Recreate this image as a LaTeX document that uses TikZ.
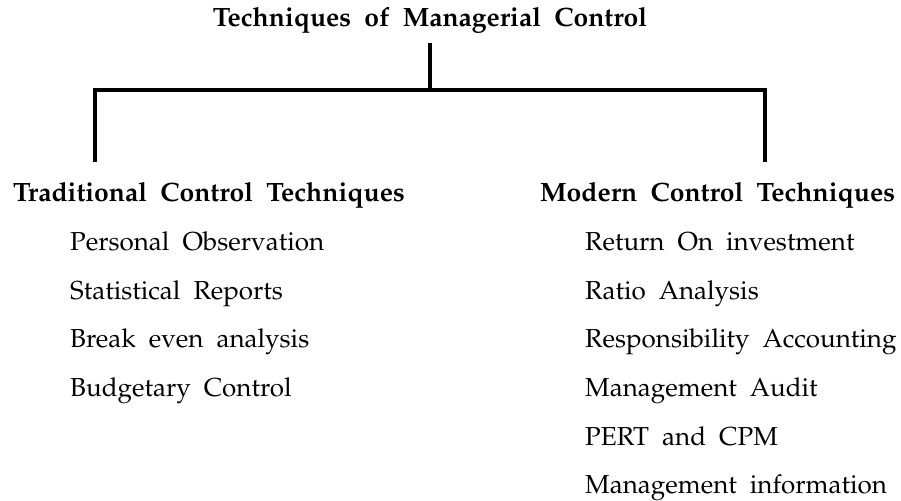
\documentclass[tikz,border=0pt]{standalone}
\usepackage[T1]{fontenc}
\usepackage{mathpazo}
\newcommand{\itemsize}{\fontsize{26}{30}\selectfont\spaceskip=0.5em plus 0pt minus 0pt\relax}
\newcommand{\headsize}{\fontsize{26.5}{31}\selectfont\spaceskip=0.5em plus 0pt minus 0pt\relax}
\begin{document}
\begin{tikzpicture}[x=1pt,y=-1pt,
  connector/.style={line width=4.8pt,black,line join=miter},
  headtext/.style={anchor=base west,inner sep=0pt,font={\bfseries\headsize}},
  titletext/.style={anchor=base,inner sep=0pt,font={\bfseries\headsize}},
  itemtext/.style={anchor=base west,inner sep=0pt,font={\itemsize}}]
\useasboundingbox (0,0) rectangle (901,500);
\fill[white] (0,0) rectangle (901,500);
\node[titletext] (title) at (430,27) {Techniques of Managerial Control};
\node[headtext] (trad) at (13,201) {Traditional Control Techniques};
\node[headtext] (mod) at (540,201) {Modern Control Techniques};
\node[itemtext] (t1) at (70,250) {Personal Observation};
\node[itemtext] (t2) at (70,299) {Statistical Reports};
\node[itemtext] (t3) at (70,347) {Break even analysis};
\node[itemtext] (t4) at (70,396) {Budgetary Control};
\node[itemtext] (m1) at (585,250) {Return On investment};
\node[itemtext] (m2) at (585,299) {Ratio Analysis};
\node[itemtext] (m3) at (585,347) {Responsibility Accounting};
\node[itemtext] (m4) at (585,396) {Management Audit};
\node[itemtext] (m5) at (585,445) {PERT and CPM};
\node[itemtext] (m6) at (585,493) {Management information};
\coordinate (top) at (430,43);
\coordinate (junc) at (430,90);
\coordinate (lcorner) at (95,90);
\coordinate (rcorner) at (765,90);
\coordinate (lend) at (95,162);
\coordinate (rend) at (765,162);
\draw[connector] (top) -- (junc);
\draw[connector] (lend) -- (lcorner) -- (rcorner) -- (rend);
\end{tikzpicture}
\end{document}
